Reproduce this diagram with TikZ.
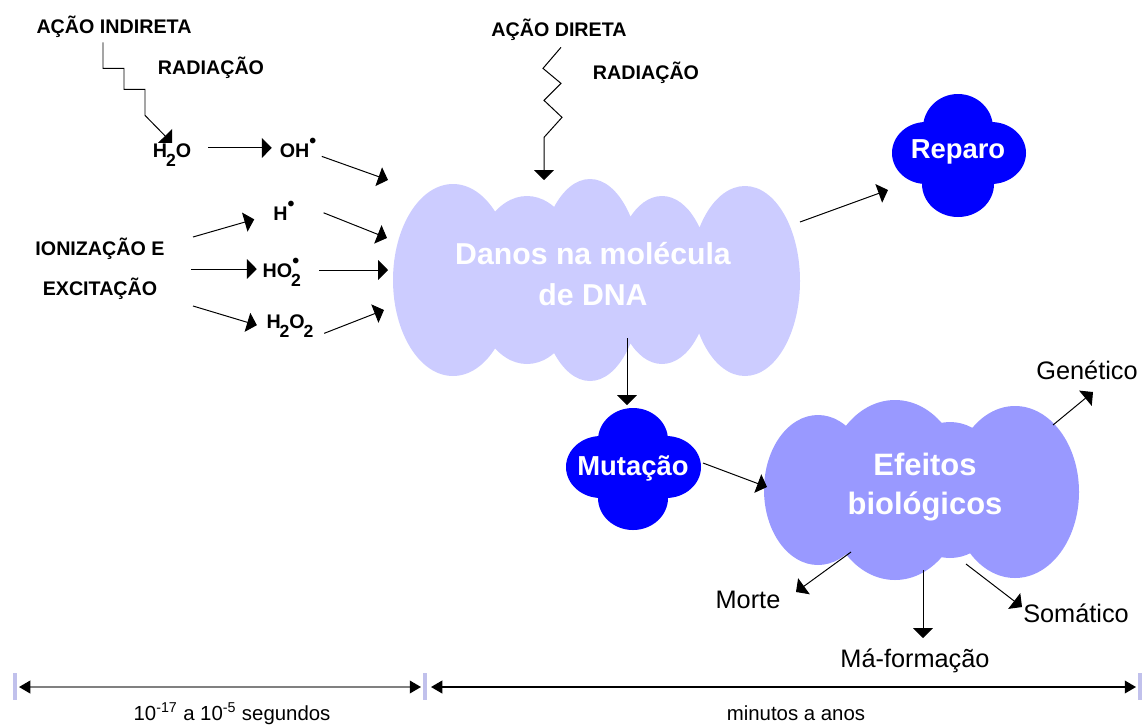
\documentclass[tikz,border=0pt]{standalone}
\usepackage{fontspec}
\setmainfont{Liberation Sans}
\usetikzlibrary{arrows.meta}

\definecolor{danos}{HTML}{CCCCFF}
\definecolor{efeitos}{HTML}{9999FF}
\definecolor{azul}{HTML}{0000FF}

\newcommand{\rdot}{\raisebox{0.46em}{\fontsize{14}{14}\selectfont\textbullet}}
\newcommand{\ind}[1]{\kern-0.8pt\raisebox{-6.5pt}{\fontsize{12.5}{12.5}\selectfont#1}}

\begin{document}
\begin{tikzpicture}[x=0.025cm, y=-0.025cm,
  rot/.style={font=\fontsize{14}{16}\selectfont\bfseries, inner sep=0pt, anchor=base},
  efe/.style={font=\fontsize{18}{20}\selectfont, inner sep=0pt, anchor=base},
  tempo/.style={font=\fontsize{14.5}{16}\selectfont, inner sep=0pt, anchor=base},
  nuvtxt/.style={text=white, font=\fontsize{21.5}{29}\selectfont\bfseries, align=center, inner sep=0pt},
  seta/.style={line width=0.7pt, -{Triangle[length=7pt,width=14pt]}},
  regua/.style={line width=1.2pt, {Triangle[length=8pt,width=9pt,color=black]}-{Triangle[length=8pt,width=9pt,color=black]}},
  marca/.style={fill=danos!85!gray}]
  \useasboundingbox (0,0) rectangle (1143,725);

  \fill[danos] (453,280) ellipse [x radius=60, y radius=96]
               (527,280) ellipse [x radius=55, y radius=84]
               (590,280) ellipse [x radius=52, y radius=101]
               (662,280) ellipse [x radius=48, y radius=84]
               (745,281) ellipse [x radius=55, y radius=95];
  \fill[efeitos] (818,490) ellipse [x radius=54, y radius=75]
                 (895,490) ellipse [x radius=70, y radius=90]
                 (950,490) ellipse [x radius=55, y radius=68]
                 (1015,492) ellipse [x radius=64, y radius=86];
  \fill[azul] (958,128) ellipse [x radius=35, y radius=34]
              (958,184) ellipse [x radius=36, y radius=33]
              (926,153) ellipse [x radius=34, y radius=31]
              (991,153) ellipse [x radius=35, y radius=31]
              (958,155) ellipse [x radius=45, y radius=40];
  \fill[azul] (633,440) ellipse [x radius=35, y radius=32]
              (633,498) ellipse [x radius=35, y radius=32]
              (601,467) ellipse [x radius=35, y radius=31]
              (666,467) ellipse [x radius=35, y radius=31]
              (633,468) ellipse [x radius=45, y radius=42];

  \node[nuvtxt] (dna) at (593,274) {Danos na molécula\\de DNA};
  \node[nuvtxt, font=\fontsize{19.5}{22}\selectfont\bfseries, anchor=base] (reparo) at (958,158) {Reparo};
  \node[nuvtxt, font=\fontsize{19.5}{22}\selectfont\bfseries, anchor=base] (mut) at (633,475) {Mutação};
  \node[nuvtxt, font=\fontsize{22}{28}\selectfont\bfseries] (efeitos) at (925,487) {Efeitos\\biológicos};

  \node[rot] (indir) at (114,33) {AÇÃO INDIRETA};
  \node[rot] (radE) at (211,74) {RADIAÇÃO};
  \node[rot] (dir) at (559,36) {AÇÃO DIRETA};
  \node[rot] (radD) at (646,79) {RADIAÇÃO};
  \node[rot] (h2o) at (172,157) {H\ind{2}O};
  \node[rot] (oh) at (298,157) {OH\rdot};
  \node[rot] (ion) at (100,255) {IONIZAÇÃO E};
  \node[rot] (exc) at (100,295) {EXCITAÇÃO};
  \node[rot] (hrad) at (284,220) {H\rdot};
  \node[rot] (ho2) at (281,277) {HO\ind{\rlap{2}}\kern1pt\rdot};
  \node[rot] (h2o2) at (290,328) {H\ind{2}O\ind{2}};

  \node[efe] (genet) at (1087,379) {Genético};
  \node[efe] (morte) at (748,608) {Morte};
  \node[efe] (somat) at (1076,622) {Somático};
  \node[efe] (mafor) at (915,667) {Má-formação};

  \node[tempo] (rapido) at (232,720) {10\textsuperscript{-17} a 10\textsuperscript{-5} segundos};
  \node[tempo] (lento) at (796,720) {minutos a anos};

  \coordinate (dnaT) at (544,180);
  \coordinate (in1) at (388,180);
  \coordinate (in2) at (387,238);
  \coordinate (in3) at (388,270);
  \coordinate (in4) at (384,310);
  \coordinate (ie1) at (193,237);
  \coordinate (ie2) at (191,269);
  \coordinate (ie3) at (193,306);
  \coordinate (dnaB) at (627,338);
  \coordinate (mutT) at (627,405);
  \coordinate (dnaR) at (800,222);
  \coordinate (repA) at (888,190);
  \coordinate (mutR) at (703,463);
  \coordinate (efL) at (767,487);
  \coordinate (efGe) at (1053,425);
  \coordinate (genT) at (1093,392);
  \coordinate (efMo) at (851,552);
  \coordinate (morT) at (796,592);
  \coordinate (efMa) at (923,570);
  \coordinate (mafT) at (923,638);
  \coordinate (efSo) at (966,564);
  \coordinate (somT) at (1022,607);
  \coordinate (t0) at (19,687);
  \coordinate (t1) at (421,687);
  \coordinate (t2) at (431,687);
  \coordinate (t3) at (1136,687);

  \draw[seta] (indir.south) ++(-11,5) |- ++(21,26) |- ++(21,21) -- ++(0,26) -- (h2o.north);
  \draw[seta] (dir.south) ++(2,7) -- ++(-18,21) -- ++(18,15) -- ++(-17,17) -- ++(18,17) -- ++(-18,20) -- (dnaT);

  \draw[seta, shorten <=12pt, shorten >=5.5pt] (h2o.east |- oh.west) -- (oh.west);
  \draw[seta, shorten <=4pt] (oh) -- (in1);
  \draw[seta, shorten >=14pt] (ie1) -- (hrad);
  \draw[seta, shorten >=4pt] (ie2) -- (ie2 -| ho2.west);
  \draw[seta, shorten >=7pt] (ie3) -- (h2o2.base west);
  \draw[seta, shorten <=22pt] (hrad.north east) -- (in2);
  \draw[seta, shorten <=14pt] (ho2.east |- in3) -- (in3);
  \draw[seta, shorten <=8pt] (h2o2.south east) -- (in4);

  \draw[seta] (dnaB) -- (mutT);
  \draw[seta] (dnaR) -- (repA);
  \draw[seta] (mutR) -- (efL);
  \draw[seta] (efGe) -- (genT);
  \draw[seta] (efMo) -- (morT);
  \draw[seta] (efMa) -- (mafT);
  \draw[seta] (efSo) -- (somT);

  \fill[marca] (13,673) rectangle (17,700);
  \fill[marca] (423,673) rectangle (427,700);
  \fill[marca] (1138,673) rectangle (1142,700);
  \draw[regua, gray] (t0) -- (t1);
  \draw[regua] (t2) -- (t3);
\end{tikzpicture}
\end{document}
